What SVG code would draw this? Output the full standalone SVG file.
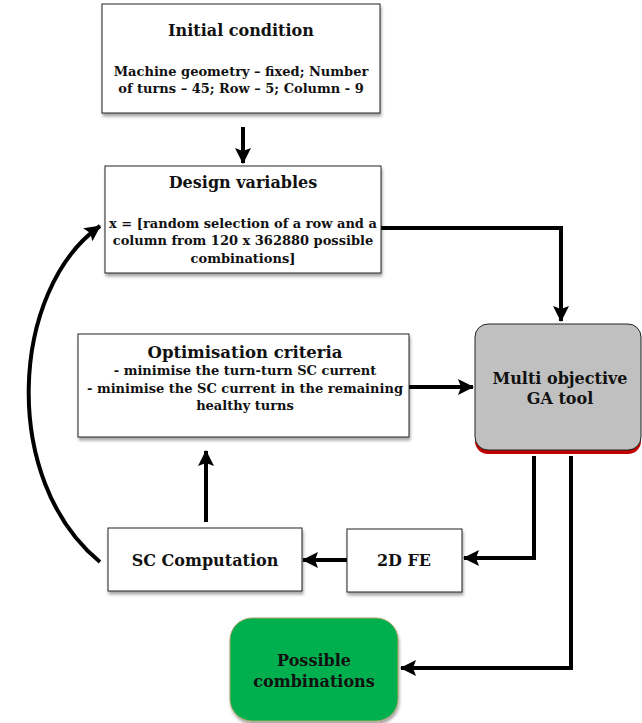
<svg xmlns="http://www.w3.org/2000/svg" width="642" height="723" viewBox="0 0 642 723">
<defs>
<style>
text{font-family:"DejaVu Serif","Liberation Serif",serif;font-weight:bold;fill:#111;text-anchor:middle}
.t{font-size:16px}
.s{font-size:13px}
.box{fill:#fff;stroke:#222;stroke-width:1}
.ln{fill:none;stroke:#000;stroke-width:4}
</style>
<filter id="sh" x="-10%" y="-10%" width="130%" height="130%">
<feDropShadow dx="1" dy="3" stdDeviation="1.5" flood-color="#000" flood-opacity="0.35"/>
</filter>
<marker id="ah" markerUnits="userSpaceOnUse" markerWidth="18" markerHeight="18" refX="15" refY="8" orient="auto">
<path d="M0,0 L16,8 L0,16 L3,8 Z" fill="#000"/>
</marker>
</defs>
<g id="connectors">
<path class="ln" d="M243,127 V163" marker-end="url(#ah)"/>
<path class="ln" d="M381,228 H561 V321" marker-end="url(#ah)"/>
<path class="ln" d="M409,387 H473" marker-end="url(#ah)"/>
<path class="ln" d="M534,456 V558 H464" marker-end="url(#ah)"/>
<path class="ln" d="M571,456 V668 H401" marker-end="url(#ah)"/>
<path class="ln" d="M347,560 H303" marker-end="url(#ah)"/>
<path class="ln" d="M206,522 V451" marker-end="url(#ah)"/>
<path class="ln" d="M100,562 C0,480 10,290 100,226" stroke-width="3.5" marker-end="url(#ah)"/>
</g>
<g id="initial">
<rect class="box" x="102" y="4" width="278" height="109" filter="url(#sh)"/>
<text class="t" x="241" y="36">Initial condition</text>
<text class="s" x="241" y="76">Machine geometry – fixed; Number</text>
<text class="s" x="241" y="93">of turns – 45; Row – 5; Column - 9</text>
</g>
<g id="design">
<rect class="box" x="105" y="166" width="276" height="107" filter="url(#sh)"/>
<text class="t" x="243" y="188">Design variables</text>
<text class="s" x="243" y="228">x = [random selection of a row and a</text>
<text class="s" x="243" y="245">column from 120 x 362880 possible</text>
<text class="s" x="243" y="263">combinations]</text>
</g>
<g id="optimisation">
<rect class="box" x="78" y="334" width="331" height="103" filter="url(#sh)"/>
<text class="t" x="245" y="358" style="font-size:16.5px">Optimisation criteria</text>
<text class="s" x="245" y="375">- minimise the turn-turn SC current</text>
<text class="s" x="245" y="393">- minimise the SC current in the remaining</text>
<text class="s" x="245" y="410">healthy turns</text>
</g>
<g id="ga">
<rect x="475" y="326" width="166" height="128" rx="13" fill="#c00000"/>
<rect x="475" y="324" width="166" height="126" rx="13" fill="#c0c0c0" stroke="#222" stroke-width="1"/>
<text class="t" x="560" y="384">Multi objective</text>
<text class="t" x="560" y="404">GA tool</text>
</g>
<g id="fe">
<rect class="box" x="347" y="529" width="115" height="63" filter="url(#sh)"/>
<text class="t" x="404" y="566">2D FE</text>
</g>
<g id="sc">
<rect class="box" x="108" y="528" width="194" height="63" filter="url(#sh)"/>
<text class="t" x="205" y="566">SC Computation</text>
</g>
<g id="possible">
<rect x="230" y="618" width="168" height="103" rx="22" fill="#00b050" stroke="#a4a060" stroke-width="1" filter="url(#sh)"/>
<text class="t" x="314" y="666">Possible</text>
<text class="t" x="314" y="687">combinations</text>
</g>
</svg>
